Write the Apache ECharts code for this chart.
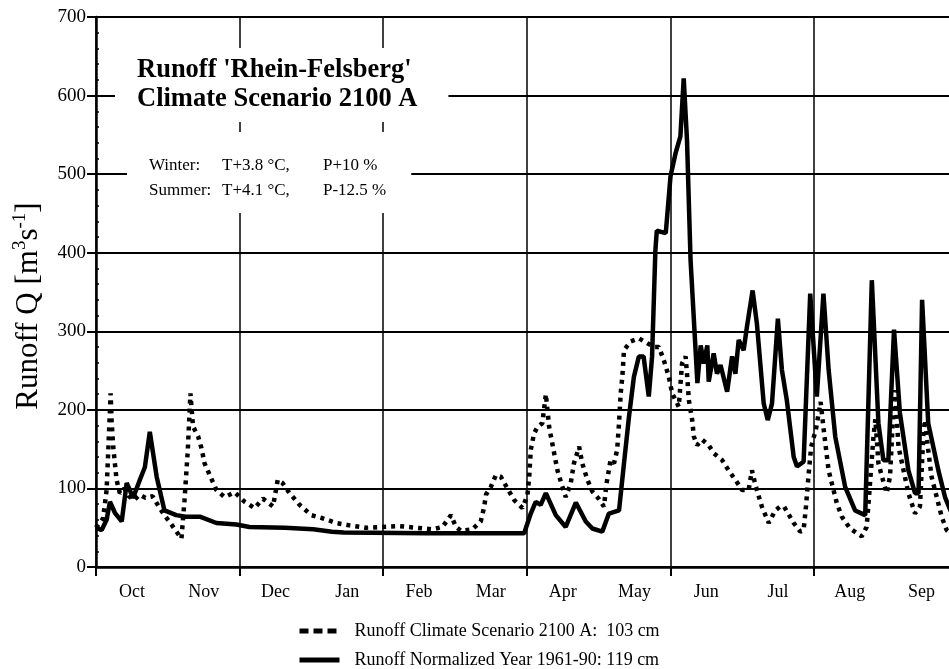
<!DOCTYPE html>
<html><head><meta charset="utf-8">
<script src="https://cdn.jsdelivr.net/npm/echarts@6/dist/echarts.min.js"></script>
<style>html,body{margin:0;padding:0;background:#fff}#c{width:949px;height:669px}</style>
</head><body><div id="c"></div>
<script>
const months = ['Oct','Nov','Dec','Jan','Feb','Mar','Apr','May','Jun','Jul','Aug','Sep'];
const yearDays = 365;           // hydrological year, drawn as 12 equal month slots
const xVisibleEnd = 361.4;      // the reference picture is cut off just before 30 Sep
const yMin = 0, yMax = 700, yStep = 100;
const scenarioName = 'Runoff Climate Scenario 2100 A:  103 cm';
const normalName = 'Runoff Normalized Year 1961-90: 119 cm';
const titleLines = ["Runoff 'Rhein-Felsberg'", 'Climate Scenario 2100 A'];
const winterText = ['Winter:', 'T+3.8 °C,', 'P+10 %'];
const summerText = ['Summer:', 'T+4.1 °C,', 'P-12.5 %'];

// [day of hydrological year (0 = 1 Oct), runoff m3/s]
const scenario = [[0,50],[3,62],[4.5,98],[6.2,221],[6.6,187],[7.3,153],[8,132],[8.7,111],[10.1,94],[12,100],[14,90],[16,85],[18.6,92],[21,88],[24,90],[26,80],[28.5,68],[32.7,51],[36.2,36],[37.5,85],[38.9,149],[40,221],[41.1,179],[43.3,166],[44.7,151],[46,132],[48.2,117],[51,98],[54.5,89],[58.8,95],[63,83],[67.2,75],[70.7,87],[75,77],[77,111],[79,107],[82,94],[86.3,79],[91.2,66],[96,62],[101.8,56],[107.4,53],[114.5,50],[121.5,51],[128.5,52],[135.6,50],[142.6,48],[146.8,51],[150.4,66],[152.5,51],[154.6,46],[159.5,48],[163,58],[164.5,77],[165.2,92],[167.3,102],[169.4,117],[171.5,115],[174.3,100],[177.2,85],[180.7,75],[182.8,92],[183.5,113],[184.2,149],[185.6,170],[187,178],[189.1,183],[190.6,220],[192,178],[194.1,145],[195.5,123],[197,108],[199,89],[201.1,106],[202.5,132],[204.7,153],[206,132],[208.2,111],[210.3,96],[213,87],[215.2,77],[216.3,106],[218,136],[219.5,132],[220.8,149],[221.6,183],[222.3,221],[223,242],[223.7,276],[226.5,287],[230,291],[233.5,285],[236.4,280],[238.5,280],[240.6,263],[242.7,242],[244.1,221],[246.9,204],[248.3,259],[249.8,268],[250.5,242],[251.2,212],[252.6,187],[253.3,166],[254.7,155],[256.8,162],[259.6,155],[261.7,145],[265.3,136],[268,123],[270.9,111],[273.7,98],[276.5,98],[277.9,123],[279.6,102],[282.1,77],[285,56],[287.8,72],[289.9,77],[291.5,77],[295.6,56],[298.4,45],[299.8,47],[300.8,77],[301.9,117],[303,153],[305,175],[307,210],[308.5,170],[310.4,123],[311.8,106],[313.9,81],[316,64],[319.5,49],[324.4,39],[326.5,51],[327.3,81],[329.4,166],[330.2,188],[331.5,132],[333,115],[335,94],[336.4,115],[337.5,180],[338.6,225],[340,153],[341.5,132],[344.2,94],[347,68],[349.1,77],[350.5,166],[351.2,187],[352.6,149],[354,115],[356.2,89],[358.3,64],[360.4,47],[363,40],[365,38]];

const normal = [[0,50],[2.4,47],[4.5,60],[5.9,83],[8,69],[10.9,58],[13,107],[15.7,88],[18.6,111],[20.7,127],[22.8,172],[25.7,115],[29,72],[34,66],[38,64],[44,64],[51,56],[59.5,54],[65,51],[80,50],[92,48],[100,45],[105,44],[140,43],[181.4,43],[184.2,68],[186.3,83],[188.4,79],[190.6,94],[194.8,66],[199,51],[203.3,82],[207.5,58],[210.3,49],[214.5,45],[217.3,68],[221.6,72],[223.7,132],[225.8,191],[227.9,242],[230,268],[232,268],[234.2,217],[235.6,268],[237,403],[237.6,428],[241.4,425],[243.4,497],[245.5,526],[247.6,548],[249,622],[250.4,543],[251.9,391],[254.8,234],[256.2,282],[257.5,259],[259,282],[259.6,236],[261.7,272],[263.1,246],[264.6,257],[267.4,223],[269.5,268],[270.9,246],[272.3,289],[274.4,276],[275.8,306],[278.2,352],[280,310],[282.9,208],[284.6,187],[286.4,208],[288.9,316],[290.6,251],[292.7,212],[295.6,140],[297,128],[299.8,134],[302.6,348],[305.4,217],[308.2,348],[310.4,251],[313.2,166],[317.4,102],[321.6,72],[325.9,66],[328.7,365],[331.5,183],[333.6,136],[335.7,136],[338.1,302],[340.6,196],[344.2,123],[347,94],[348.5,94],[350,340],[352.6,183],[356.9,123],[359.7,89],[362,72],[365,60]];

const monthSpan = yearDays / months.length;
const mids = months.map((m, i) => (i + 0.5) * monthSpan);
const gridDays = [];
for (let i = 0; i <= months.length; i += 2) {
  if (i * monthSpan <= xVisibleEnd) gridDays.push(i * monthSpan);
}

const FF = 'Liberation Serif';
const legendCommon = {
  orient: 'vertical', left: 292,
  itemWidth: 40, itemHeight: 14,
  itemStyle: {opacity: 0},
  textStyle: {fontFamily: FF, fontSize: 18, color: '#000', padding: [0, 0, 0, 10]}
};
const chart = echarts.init(document.getElementById('c'), null, {renderer: 'canvas'});
chart.setOption({
  animation: false,
  backgroundColor: '#fff',
  color: ['#000', '#000'],
  textStyle: {fontFamily: FF, color: '#000'},
  grid: {left: 96, right: 0, top: 17, bottom: 102, containLabel: false},
  title: [
    {
      text: titleLines.join('\n'), left: 115, top: 48,
      backgroundColor: '#fff', padding: [8, 31, 8, 22],
      textStyle: {fontFamily: FF, fontWeight: 'bold', fontSize: 26.5, lineHeight: 29, color: '#000'}
    },
    {
      text: '{a|' + winterText[0] + '}{b|' + winterText[1] + '}{c|' + winterText[2] + '}\n' +
            '{a|' + summerText[0] + '}{b|' + summerText[1] + '}{c|' + summerText[2] + '}',
      left: 127, top: 132,
      backgroundColor: '#fff', padding: [21, 25, 10, 22],
      textStyle: {
        fontFamily: FF, fontSize: 17, lineHeight: 25, color: '#000', fontWeight: 'normal',
        rich: {
          a: {width: 73, fontFamily: FF, fontSize: 17, lineHeight: 25, color: '#000'},
          b: {width: 101, fontFamily: FF, fontSize: 17, lineHeight: 25, color: '#000'},
          c: {fontFamily: FF, fontSize: 17, lineHeight: 25, color: '#000'}
        }
      }
    }
  ],
  legend: [
    Object.assign({}, legendCommon, {
      top: 617,
      data: [{name: scenarioName, lineStyle: {type: [9, 5], width: 5, color: '#000'}}]
    }),
    Object.assign({}, legendCommon, {
      top: 646,
      data: [{name: normalName, lineStyle: {width: 5, color: '#000'}}]
    })
  ],
  xAxis: {
    type: 'value', min: 0, max: xVisibleEnd,
    axisLine: {show: true, onZero: false, lineStyle: {color: '#000', width: 2.5}},
    axisTick: {show: true, customValues: gridDays, length: 9, lineStyle: {color: '#000', width: 2}},
    axisLabel: {
      customValues: mids, margin: 16, color: '#000', fontFamily: FF, fontSize: 18,
      formatter: v => {
        let best = 0;
        mids.forEach((m, i) => { if (Math.abs(m - v) < Math.abs(mids[best] - v)) best = i; });
        return months[best];
      }
    },
    splitLine: {show: true, lineStyle: {color: '#000', width: 1.5}}
  },
  yAxis: [
    {
      type: 'value', min: yMin, max: yMax, interval: yStep,
      name: '{n|Runoff Q [m}{s|3}{n|s}{s|-1}{n|]}',
      nameLocation: 'middle', nameGap: 50, nameRotate: 90,
      nameTextStyle: {
        padding: [0, 28, 0, 0],
        rich: {
          n: {fontFamily: FF, fontSize: 31, lineHeight: 35, color: '#000'},
          s: {fontFamily: FF, fontSize: 19, lineHeight: 22, color: '#000', verticalAlign: 'top'}
        }
      },
      axisLine: {show: true, lineStyle: {color: '#000', width: 2.5}},
      axisTick: {show: true, length: 9, lineStyle: {color: '#000', width: 2}},
      axisLabel: {margin: 10, color: '#000', fontFamily: FF, fontSize: 19},
      splitLine: {show: true, lineStyle: {color: '#000', width: 2}}
    },
    {
      type: 'value', min: yMin, max: yMax, interval: yStep, position: 'left',
      axisLine: {show: false},
      axisTick: {show: true, inside: true, length: 4, lineStyle: {color: '#000', width: 1.5}},
      minorTick: {show: true, splitNumber: 5, length: 3, lineStyle: {color: '#000', width: 1.5}},
      axisLabel: {show: false},
      splitLine: {show: false}
    }
  ],
  series: [
    {
      name: scenarioName, type: 'line', data: scenario, symbol: 'none', showSymbol: false,
      itemStyle: {color: '#000'},
      lineStyle: {color: '#000', width: 4.5, type: [4, 5]}, z: 3
    },
    {
      name: normalName, type: 'line', data: normal, symbol: 'none', showSymbol: false,
      itemStyle: {color: '#000'},
      lineStyle: {color: '#000', width: 4.5}, z: 4
    }
  ]
});
</script></body></html>
